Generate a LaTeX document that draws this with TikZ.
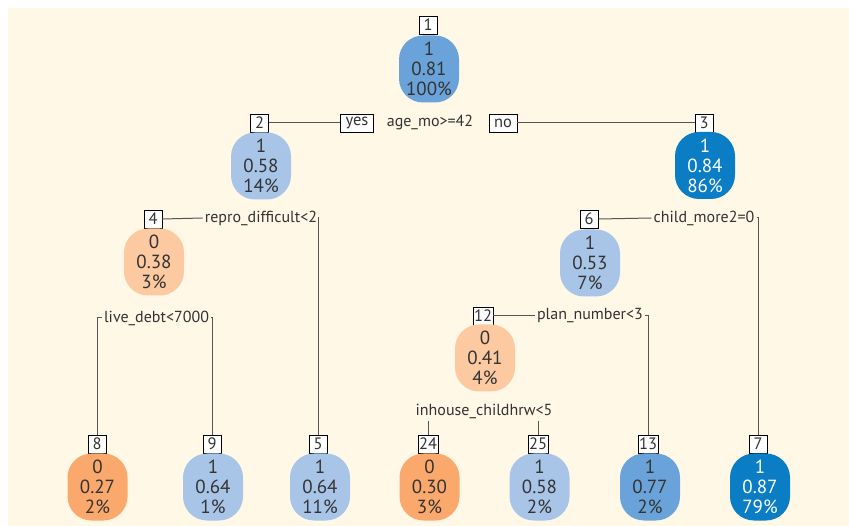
\documentclass[tikz,border=0pt]{standalone}
\usepackage{fontspec}
\setmainfont{PT Sans}
\definecolor{cream}{HTML}{FFF8E7}
\definecolor{txt}{HTML}{333333}
\definecolor{linec}{HTML}{555555}
\definecolor{dblue}{HTML}{0A7DC4}
\definecolor{mblue}{HTML}{6AA3D9}
\definecolor{lblue}{HTML}{A8C5E8}
\definecolor{lorange}{HTML}{FCC9A0}
\definecolor{dorange}{HTML}{FAA86C}
\begin{document}
\begin{tikzpicture}[x=1pt,y=-1pt,
  blob/.style={rounded corners=24pt, minimum width=60pt, minimum height=67pt, inner sep=0pt, align=center, font=\fontsize{19}{20}\selectfont, text=txt},
  idbox/.style={draw=black, fill=white, line width=0.8pt, minimum width=18pt, minimum height=18pt, inner sep=1pt, font=\fontsize{16.5}{17}\selectfont, text=txt},
  yn/.style={draw=black, fill=white, line width=0.8pt, minimum height=18pt, inner xsep=5pt, inner ysep=1pt, font=\fontsize{16.5}{17}\selectfont, text=txt},
  split/.style={font=\fontsize{16}{17}\selectfont, inner sep=2pt, text=txt},
  conn/.style={draw=linec, line width=1pt}]
\useasboundingbox (0,0) rectangle (849,526);
\fill[white] (0,0) rectangle (849,526);
\fill[cream] (8,8) rectangle (849,526);

% split labels
\node[split] (s1) at (430,123) {age\_mo>=42};
\node[yn] (yes) at (357,123) {yes};
\node[yn] (no) at (503,123) {no};
\node[split] (s4) at (261,218) {repro\_difficult<2};
\node[split] (s6) at (704,218) {child\_more2=0};
\node[split] (s8) at (156.5,318) {live\_debt<7000};
\node[split] (s12) at (590,316) {plan\_number<3};
\node[split] (s24) at (484,411) {inhouse\_childhrw<5};

% id boxes
\node[idbox] (b1) at (428,25) {1};
\node[idbox] (b2) at (259.5,123) {2};
\node[idbox] (b3) at (704,123) {3};
\node[idbox] (b4) at (153,219) {4};
\node[idbox] (b6) at (589,219) {6};
\node[idbox] (b12) at (483,316) {12};
\node[idbox] (b8) at (97,444) {8};
\node[idbox] (b9) at (212,444) {9};
\node[idbox] (b5) at (318,444) {5};
\node[idbox] (b24) at (428,444) {24};
\node[idbox] (b25) at (538,444) {25};
\node[idbox] (b13) at (648,444) {13};
\node[idbox] (b7) at (758,444) {7};

% blobs
\node[blob, fill=mblue] (n1) at (429,69) {1\\0.81\\100\%};
\node[blob, fill=lblue] (n2) at (261,166) {1\\0.58\\14\%};
\node[blob, fill=dblue, text=white] (n3) at (705,165.5) {1\\0.84\\86\%};
\node[blob, fill=lorange] (n4) at (154,262) {0\\0.38\\3\%};
\node[blob, fill=lblue] (n6) at (590,263) {1\\0.53\\7\%};
\node[blob, fill=lorange] (n12) at (485,358) {0\\0.41\\4\%};
\node[blob, fill=dorange] (n8) at (97.5,487) {0\\0.27\\2\%};
\node[blob, fill=lblue] (n9) at (213,487) {1\\0.64\\1\%};
\node[blob, fill=lblue] (n5) at (320,487) {1\\0.64\\11\%};
\node[blob, fill=dorange] (n24) at (429.5,487) {0\\0.30\\3\%};
\node[blob, fill=lblue] (n25) at (539.5,487) {1\\0.58\\2\%};
\node[blob, fill=mblue] (n13) at (650,487) {1\\0.77\\2\%};
\node[blob, fill=dblue, text=white] (n7) at (760,487) {1\\0.87\\79\%};

% connectors
\draw[conn] (b2.east) -- (yes.west);
\draw[conn] (no.east) -- (b3.west);
\draw[conn] (b4.east) -- (s4.west);
\draw[conn] (s4.east) -| (b5.north);
\draw[conn] (b6.east) -- (s6.west);
\draw[conn] (s6.east) -| (b7.north);
\draw[conn] (s8.west) -| (b8.north);
\draw[conn] (s8.east) -| (b9.north);
\draw[conn] (b12.east) -- (s12.west);
\draw[conn] (s12.east) -| (b13.north);
\draw[conn] (b24.north) -- (b24.north |- s24.south);
\draw[conn] (b25.north) -- (b25.north |- s24.south);
\end{tikzpicture}
\end{document}
